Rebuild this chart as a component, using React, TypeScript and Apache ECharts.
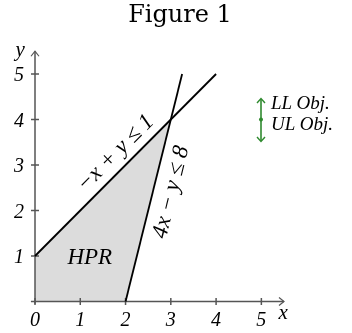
import React, { useEffect, useRef } from "react";
import * as echarts from "echarts";

const chartTitle = "Figure 1";
const xTickValues = [0, 1, 2, 3, 4, 5];
const yTickValues = [1, 2, 3, 4, 5];
const xTickMarks = [0, 1, 2, 3, 4, 5];
const yTickMarks = [1, 2, 3, 4, 5];
const xAxisRange = [-0.09, 5.5];
const yAxisRange = [-0.05, 5.5];
const axisNames = ["x", "y"];
const axisNameX = [5.48, -0.33];
const axisNameY = [-0.23, 5.55];
// -x + y = 1
const constraint1X = [0, 4];
const constraint1Y = [1, 5];
// 4x - y = 8
const constraint2X = [2, 3.25];
const constraint2Y = [0, 5];
// feasible region (HPR)
const hprX = [0, 0, 3, 2];
const hprY = [0, 1, 4, 0];
const annotationTexts = ["−x + y ≤ 1", "4x − y ≤ 8", "HPR"];
const annotationX = [1.76, 2.98, 1.21];
const annotationY = [3.28, 2.41, 0.98];
const annotationAngles = [45, 76, 0];
const legendTexts = ["LL Obj.", "UL Obj."];

const SERIF = "Liberation Serif";
const GREEN = "#2f8a2f";
const AXIS = "#555555";

export default function App() {
  const ref = useRef<HTMLDivElement>(null);
  useEffect(() => {
    if (!ref.current) return;
    const chart = echarts.init(ref.current, null, { renderer: "svg" });
    const italic = (size: number) => ({
      fontFamily: SERIF,
      fontStyle: "italic",
      fontSize: size,
      fill: "#000",
    });
    const option: any = {
      animation: false,
      title: {
        text: chartTitle,
        left: 180,
        top: 2,
        textAlign: "center",
        padding: 0,
        textStyle: { fontFamily: "DejaVu Serif", fontSize: 24, fontWeight: "normal", color: "#000" },
      },
      grid: { left: 35, right: 68, top: 51.25, bottom: 31.5 },
      xAxis: {
        type: "value",
        min: 0,
        max: 5.5,
        axisLine: { show: false },
        axisTick: { show: false },
        splitLine: { show: false },
        axisLabel: {
          customValues: xTickValues,
          fontFamily: SERIF,
          fontStyle: "italic",
          fontSize: 20,
          color: "#000",
          margin: 7,
        },
      },
      yAxis: {
        type: "value",
        min: 0,
        max: 5.5,
        axisLine: { show: false },
        axisTick: { show: false },
        splitLine: { show: false },
        axisLabel: {
          customValues: yTickValues,
          fontFamily: SERIF,
          fontStyle: "italic",
          fontSize: 20,
          color: "#000",
          margin: 11,
        },
      },
      series: [
        {
          type: "custom",
          clip: false,
          silent: true,
          z: 1,
          data: [[0, 0]],
          renderItem: (_p: any, api: any) => {
            const pts = hprX.map((x, i) => api.coord([x, hprY[i]]));
            return { type: "polygon", shape: { points: pts }, style: { fill: "#dcdcdc", stroke: "none" } };
          },
        },
        {
          type: "custom",
          clip: false,
          silent: true,
          z: 2,
          data: [[0, 0]],
          renderItem: (_p: any, api: any) => {
            const st = { stroke: AXIS, lineWidth: 1.5, fill: "none" };
            const xs = api.coord([xAxisRange[0], 0]);
            const xe = api.coord([xAxisRange[1], 0]);
            const ys = api.coord([0, yAxisRange[0]]);
            const ye = api.coord([0, yAxisRange[1]]);
            const children: any[] = [
              { type: "line", shape: { x1: xs[0], y1: xs[1], x2: xe[0], y2: xe[1] }, style: st },
              { type: "line", shape: { x1: ys[0], y1: ys[1], x2: ye[0], y2: ye[1] }, style: st },
              {
                type: "polyline",
                shape: { points: [[xe[0] - 5, xe[1] - 4], [xe[0], xe[1]], [xe[0] - 5, xe[1] + 4]] },
                style: { stroke: AXIS, lineWidth: 1.2, fill: null },
              },
              {
                type: "polyline",
                shape: { points: [[ye[0] - 4, ye[1] + 5], [ye[0], ye[1]], [ye[0] + 4, ye[1] + 5]] },
                style: { stroke: AXIS, lineWidth: 1.2, fill: null },
              },
            ];
            xTickMarks.forEach((v) => {
              const p = api.coord([v, 0]);
              children.push({ type: "line", shape: { x1: p[0], y1: p[1] - 3.5, x2: p[0], y2: p[1] + 3.5 }, style: st });
            });
            yTickMarks.forEach((v) => {
              const p = api.coord([0, v]);
              children.push({ type: "line", shape: { x1: p[0] - 4, y1: p[1], x2: p[0] + 4, y2: p[1] }, style: st });
            });
            axisNames.forEach((t, i) => {
              const p = api.coord([axisNameX[i], axisNameY[i]]);
              children.push({
                type: "text",
                x: p[0],
                y: p[1],
                style: { text: t, ...italic(21), align: "center", verticalAlign: "middle" },
              });
            });
            return { type: "group", children };
          },
        },
        {
          type: "line",
          z: 3,
          silent: true,
          showSymbol: false,
          data: constraint1X.map((x, i) => [x, constraint1Y[i]]),
          lineStyle: { color: "#000", width: 1.8 },
        },
        {
          type: "line",
          z: 3,
          silent: true,
          showSymbol: false,
          data: constraint2X.map((x, i) => [x, constraint2Y[i]]),
          lineStyle: { color: "#000", width: 1.8 },
        },
        {
          type: "custom",
          clip: false,
          silent: true,
          z: 4,
          data: [[0, 0]],
          renderItem: (_p: any, api: any) => ({
            type: "group",
            children: annotationTexts.map((t, i) => {
              const p = api.coord([annotationX[i], annotationY[i]]);
              return {
                type: "text",
                x: p[0],
                y: p[1],
                rotation: (annotationAngles[i] * Math.PI) / 180,
                style: { text: t, ...italic(23), align: "center", verticalAlign: "middle" },
              };
            }),
          }),
        },
      ],
      graphic: [
        { type: "line", shape: { x1: 261, y1: 99, x2: 261, y2: 141 }, style: { stroke: GREEN, lineWidth: 1.6 } },
        {
          type: "polyline",
          shape: { points: [[257, 103], [261, 98.5], [265, 103]] },
          style: { stroke: GREEN, lineWidth: 1.4, fill: null },
        },
        {
          type: "polyline",
          shape: { points: [[257, 137], [261, 141.5], [265, 137]] },
          style: { stroke: GREEN, lineWidth: 1.4, fill: null },
        },
        { type: "circle", shape: { cx: 261, cy: 119.5, r: 2 }, style: { fill: GREEN } },
        {
          type: "text",
          x: 271,
          y: 102,
          style: { text: legendTexts[0], ...italic(19), lineHeight: 18, align: "left", verticalAlign: "middle" },
        },
        {
          type: "text",
          x: 271,
          y: 123,
          style: { text: legendTexts[1], ...italic(19), lineHeight: 18, align: "left", verticalAlign: "middle" },
        },
      ],
    };
    chart.setOption(option);
    return () => chart.dispose();
  }, []);
  return <div ref={ref} style={{ position: "fixed", left: 0, top: 0, width: 352, height: 333 }} />;
}
